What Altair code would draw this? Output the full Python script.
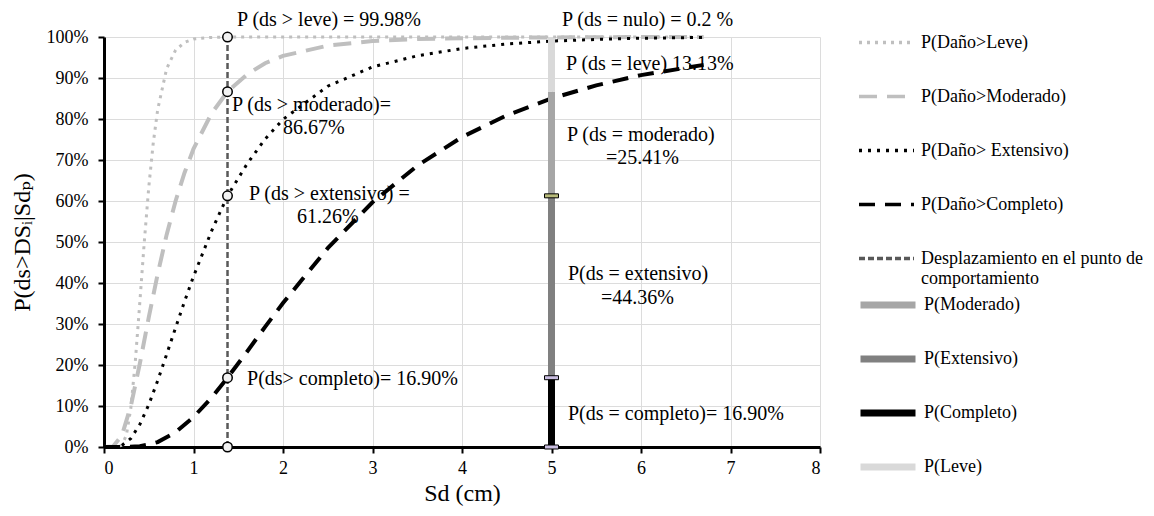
import altair as alt
import pandas as pd

# ---- data ----
curve_names = ["P(Daño>Leve)", "P(Daño>Moderado)", "P(Daño> Extensivo)", "P(Daño>Completo)",
               "Desplazamiento"]
curve_colors = ["#bfbfbf", "#bfbfbf", "#000000", "#000000", "#595959"]
curve_dash = [[3, 5], [18, 10], [3, 6], [16, 10], [6, 3]]
curve_width = [3, 4, 3, 4, 2.5]

seg_names = ["P(Moderado)", "P(Extensivo)", "P(Completo)", "P(Leve)"]
seg_colors = ["#a6a6a6", "#808080", "#000000", "#d9d9d9"]
seg_width = 7

leve_x = [0, 0.1, 0.2, 0.25, 0.3, 0.35, 0.4, 0.45, 0.5, 0.55, 0.6, 0.7, 0.8, 0.9, 1.0, 1.2, 1.38, 2.0, 3.0, 4.0, 5.0, 6.0, 6.7]
leve_y = [0, 0, 0.004, 0.029, 0.095, 0.209, 0.352, 0.5, 0.633, 0.741, 0.823, 0.923, 0.968, 0.987, 0.995, 0.999, 0.9998, 1, 1, 1, 1, 1, 1]

mod_x = [0, 0.1, 0.2, 0.3, 0.4, 0.5, 0.6, 0.7, 0.8, 0.9, 1.0, 1.2, 1.38, 1.6, 1.8, 2.0, 2.5, 3.0, 3.5, 4.0, 5.0, 6.0, 6.7]
mod_y = [0, 0.001, 0.028, 0.100, 0.203, 0.316, 0.422, 0.518, 0.600, 0.669, 0.727, 0.813, 0.8667, 0.909, 0.936, 0.954, 0.979, 0.990, 0.995, 0.997, 0.999, 1.0, 1.0]

ext_x = [0, 0.1, 0.2, 0.3, 0.4, 0.5, 0.6, 0.7, 0.8, 0.9, 1.0, 1.2, 1.38, 1.6, 1.8, 2.0, 2.5, 3.0, 3.5, 4.0, 4.5, 5.0, 5.5, 6.0, 6.7]
ext_y = [0, 0, 0.004, 0.021, 0.055, 0.103, 0.162, 0.226, 0.291, 0.355, 0.416, 0.526, 0.6126, 0.691, 0.751, 0.799, 0.880, 0.927, 0.954, 0.972, 0.983, 0.990, 0.994, 0.997, 0.999]

comp_x = [0, 0.2, 0.4, 0.5, 0.6, 0.8, 1.0, 1.2, 1.38, 1.6, 1.8, 2.0, 2.5, 3.0, 3.5, 4.0, 4.5, 5.0, 5.5, 6.0, 6.7]
comp_y = [0, 0, 0.002, 0.006, 0.012, 0.036, 0.073, 0.120, 0.169, 0.233, 0.293, 0.351, 0.485, 0.597, 0.686, 0.756, 0.809, 0.850, 0.882, 0.907, 0.932]

sd_point = 1.38
point_probs = [0, 0.169, 0.6126, 0.8667, 0.9998]

bar_x = 5
bar_series = ["P(Completo)", "P(Extensivo)", "P(Moderado)", "P(Leve)"]
bar_lo = [0, 0.169, 0.6126, 0.8667]
bar_hi = [0.169, 0.6126, 0.8667, 0.998]

cap_y = [0, 0.169, 0.6126]
cap_fill = ["#c9bde0", "#c9bde0", "#b8bb7a"]

ann_text = ["P (ds > leve) = 99.98%", "P (ds = nulo) = 0.2 %", "P (ds = leve) 13.13%",
            "P (ds > moderado)=", "86.67%", "P (ds > extensivo) =", "61.26%",
            "P(ds> completo)= 16.90%", "P (ds = moderado)", "=25.41%",
            "P(ds = extensivo)", "=44.36%", "P(ds = completo)= 16.90%"]
ann_x = [1.486, 5.117, 5.162, 1.43, 2.0, 1.62, 2.156, 1.598, 5.173, 5.609, 5.184, 5.553, 5.184]
ann_y = [1.041, 1.041, 0.934, 0.834, 0.778, 0.617, 0.561, 0.166, 0.761, 0.705, 0.422, 0.363, 0.080]

# ---- tables ----
rows = []
for k, (xs, ys) in enumerate([(leve_x, leve_y), (mod_x, mod_y), (ext_x, ext_y), (comp_x, comp_y)]):
    for i, (a, b) in enumerate(zip(xs, ys)):
        rows.append({"series": curve_names[k], "sd": a, "p": b, "idx": i, "w": curve_width[k]})
rows.append({"series": curve_names[4], "sd": sd_point, "p": 0, "idx": 0, "w": curve_width[4]})
rows.append({"series": curve_names[4], "sd": sd_point, "p": point_probs[-1], "idx": 1, "w": curve_width[4]})
lines_df = pd.DataFrame(rows)

pts_df = pd.DataFrame({"sd": [sd_point] * len(point_probs), "p": point_probs})
bars_df = pd.DataFrame({"seg": bar_series, "sd": [bar_x] * 4, "lo": bar_lo, "hi": bar_hi})
caps_df = pd.DataFrame({"sd": [bar_x] * len(cap_y), "p": cap_y, "fill": cap_fill})
ann_df = pd.DataFrame({"t": ann_text, "sd": ann_x, "p": ann_y})

FONT = "Liberation Serif, Times New Roman, Tinos, DejaVu Serif, serif"

xscale = alt.Scale(domain=[0, 8], nice=False)
yscale = alt.Scale(domain=[0, 1], nice=False)
xax = alt.Axis(values=list(range(0, 9)), title="Sd (cm)", format="d")
yax = alt.Axis(values=[i / 10 for i in range(11)], format=".0%", title="P(ds>DSᵢ|Sdₚ)")

legend_a = alt.Legend(
    title=None, orient="none", legendX=753, legendY=-24, padding=0,
    symbolType="stroke", symbolSize=3025, symbolStrokeWidth=3.5, labelOffset=5, labelLimit=400,
    labelFont=FONT, labelFontSize=18, labelColor="black", rowPadding=15,
    labelExpr="datum.label == 'Desplazamiento' ? ['Desplazamiento  en el punto de', 'comportamiento'] : datum.label",
)
legend_b = alt.Legend(
    title=None, orient="none", legendX=753, legendY=237, padding=0,
    symbolType="stroke", symbolSize=3025, symbolStrokeWidth=seg_width, labelOffset=5, labelLimit=400,
    labelFont=FONT, labelFontSize=18, labelColor="black", rowPadding=9,
)

color_enc = alt.Color("series:N", scale=alt.Scale(domain=curve_names, range=curve_colors), legend=legend_a)
dash_enc = alt.StrokeDash("series:N", scale=alt.Scale(domain=curve_names, range=curve_dash), legend=legend_a)

lines = alt.Chart(lines_df).mark_line().encode(
    x=alt.X("sd:Q", scale=xscale, axis=xax),
    y=alt.Y("p:Q", scale=yscale, axis=yax),
    color=color_enc, strokeDash=dash_enc,
    strokeWidth=alt.StrokeWidth("w:Q", scale=None, legend=None),
    order=alt.Order("idx:Q"), detail="series:N",
)

bars = alt.Chart(bars_df).mark_rule(strokeWidth=seg_width).encode(
    x="sd:Q", y="lo:Q", y2="hi:Q",
    stroke=alt.Stroke("seg:N", scale=alt.Scale(domain=seg_names, range=seg_colors), legend=legend_b),
)

caps = alt.Chart(caps_df).mark_tick(orient="horizontal", size=14, thickness=4, stroke="black",
                                    strokeWidth=1, opacity=1).encode(
    x="sd:Q", y="p:Q", fill=alt.Fill("fill:N", scale=None, legend=None),
)

pts = alt.Chart(pts_df).mark_point(shape="circle", size=90, filled=True, fill="#f2f2f2",
                                   stroke="black", strokeWidth=1.5, opacity=1).encode(
    x="sd:Q", y="p:Q",
)

texts = alt.Chart(ann_df).mark_text(align="left", baseline="middle", font=FONT, fontSize=20,
                                     color="black").encode(
    x="sd:Q", y="p:Q", text="t:N",
)

chart = alt.layer(lines, bars, caps, pts, texts).properties(
    width=716, height=410,
    autosize=alt.AutoSizeParams(type="none"),
    padding={"left": 96, "top": 29, "right": 326, "bottom": 60},
).configure(font=FONT).configure_view(strokeWidth=0).configure_axis(
    domainColor="black", domainWidth=3, tickColor="black", tickWidth=2, tickSize=6,
    labelFont=FONT, labelFontSize=18, labelColor="black",
    titleFont=FONT, titleFontSize=24, titleFontWeight="normal", titleColor="black",
    gridColor="#dcdcdc", gridWidth=1,
).configure_axisY(labelPadding=10, titlePadding=12).configure_axisX(labelPadding=6, titlePadding=4)

chart.save("out.html", embed_options={"renderer": "svg", "actions": False})
